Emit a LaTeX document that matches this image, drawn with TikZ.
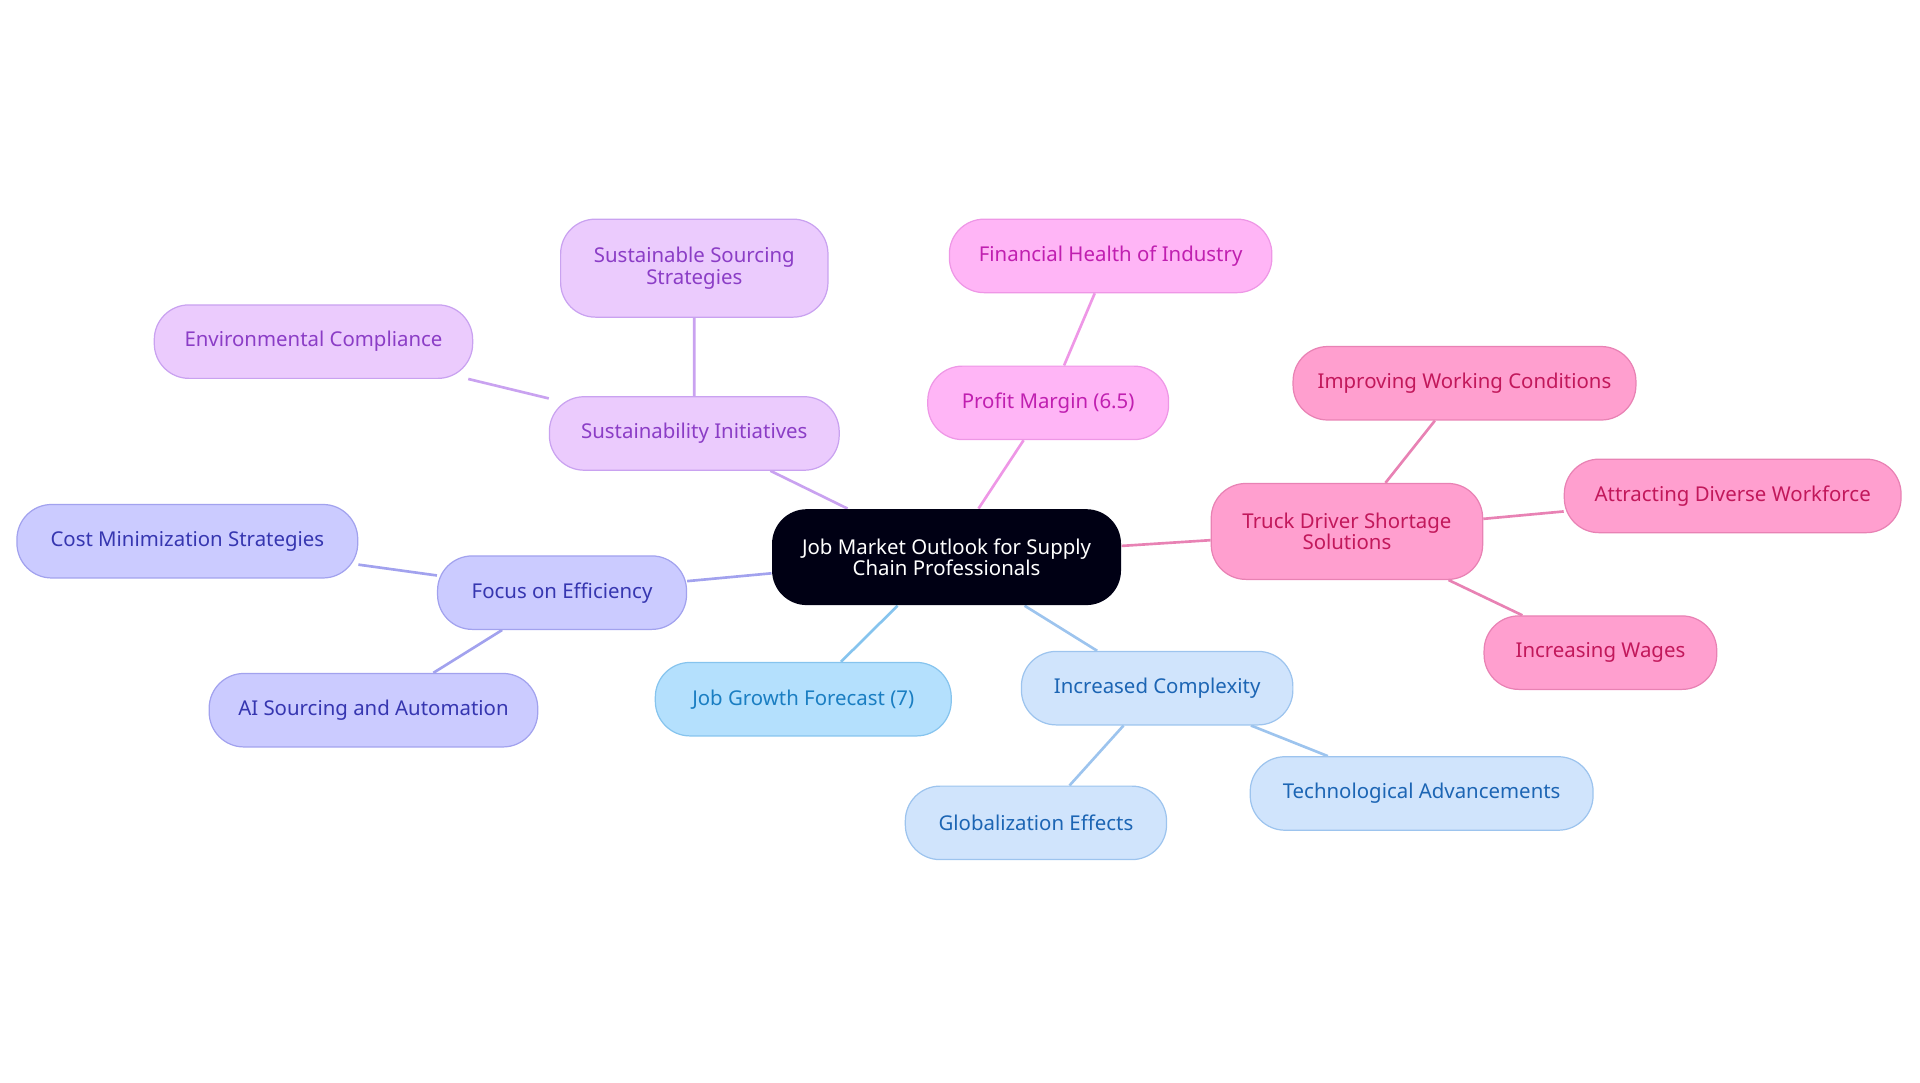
\documentclass[tikz,border=0pt]{standalone}
\usepackage{fontspec}
\setmainfont{Noto Sans}
\usetikzlibrary{backgrounds}
\definecolor{purpF}{HTML}{EBCBFD}\definecolor{purpD}{HTML}{C9A2F0}\definecolor{purpT}{HTML}{8B3DC6}
\definecolor{pinkF}{HTML}{FFB5F6}\definecolor{pinkD}{HTML}{EE97E6}\definecolor{pinkT}{HTML}{C01FB0}
\definecolor{roseF}{HTML}{FF9FCF}\definecolor{roseD}{HTML}{E882B4}\definecolor{roseT}{HTML}{C2185B}
\definecolor{bluF}{HTML}{D0E4FC}\definecolor{bluD}{HTML}{9DC4EE}\definecolor{bluT}{HTML}{1C65B4}
\definecolor{skyF}{HTML}{B4E0FD}\definecolor{skyD}{HTML}{86C4EE}\definecolor{skyT}{HTML}{1A7EC2}
\definecolor{indF}{HTML}{CBCBFF}\definecolor{indD}{HTML}{A2A2EE}\definecolor{indT}{HTML}{3636B0}
\begin{document}
\begin{tikzpicture}[x=0.6pt,y=-0.6pt,
		topic/.style={rounded corners=17pt,minimum height=36pt,align=center,font=\fontsize{10}{10.5}\selectfont,line width=0.6pt},
		purp/.style={topic,fill=purpF,draw=purpD,text=purpT},
		pink/.style={topic,fill=pinkF,draw=pinkD,text=pinkT},
		rose/.style={topic,fill=roseF,draw=roseD,text=roseT},
		blu/.style={topic,fill=bluF,draw=bluD,text=bluT},
		sky/.style={topic,fill=skyF,draw=skyD,text=skyT},
		ind/.style={topic,fill=indF,draw=indD,text=indT},
		link/.style={line width=1.3pt}]
	\useasboundingbox (0,0) rectangle (1568,884);
	\node[topic,fill=black!92!blue,text=white,minimum width=171pt,minimum height=47pt] (root) at (773,455) {Job Market Outlook for Supply\\Chain Professionals};
	\node[purp,minimum width=142pt] (sust) at (567,354) {Sustainability Initiatives};
	\node[purp,minimum width=131pt,minimum height=48pt] (sourcing) at (567,219) {Sustainable Sourcing\\Strategies};
	\node[purp,minimum width=156pt] (envir) at (256,279) {Environmental Compliance};
	\node[pink,minimum width=118pt] (profit) at (856,329) {Profit Margin (6.5)};
	\node[pink,minimum width=158pt] (health) at (907,209) {Financial Health of Industry};
	\node[rose,minimum width=133pt,minimum height=47pt] (truck) at (1100,434) {Truck Driver Shortage\\Solutions};
	\node[rose,minimum width=168pt] (working) at (1196,313) {Improving Working Conditions};
	\node[rose,minimum width=165pt] (diverse) at (1415,405) {Attracting Diverse Workforce};
	\node[rose,minimum width=114pt] (wages) at (1307,533) {Increasing Wages};
	\node[blu,minimum width=133pt] (complex) at (945,562) {Increased Complexity};
	\node[blu,minimum width=128pt] (global) at (846,672) {Globalization Effects};
	\node[blu,minimum width=168pt] (techno) at (1161,648) {Technological Advancements};
	\node[sky,minimum width=145pt] (growth) at (656,571) {Job Growth Forecast (7)};
	\node[ind,minimum width=122pt] (effic) at (459,484) {Focus on Efficiency};
	\node[ind,minimum width=167pt] (costmin) at (153,442) {Cost Minimization Strategies};
	\node[ind,minimum width=161pt] (aisrc) at (305,580) {AI Sourcing and Automation};
	\begin{scope}[on background layer]
		\draw[link,purpD] (root) -- (sust) (sust) -- (sourcing) (sust) -- (envir);
		\draw[link,pinkD] (root) -- (profit) (profit) -- (health);
		\draw[link,roseD] (root) -- (truck) (truck) -- (working) (truck) -- (diverse) (truck) -- (wages);
		\draw[link,bluD] (root) -- (complex) (complex) -- (global) (complex) -- (techno);
		\draw[link,skyD] (root) -- (growth);
		\draw[link,indD] (root) -- (effic) (effic) -- (costmin) (effic) -- (aisrc);
	\end{scope}
\end{tikzpicture}
\end{document}
